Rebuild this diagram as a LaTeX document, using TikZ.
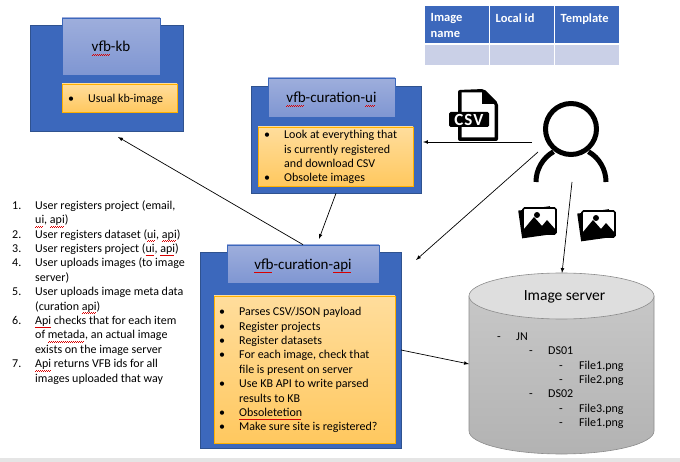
\documentclass[tikz,border=0pt]{standalone}
\usepackage{fontspec}
\setmainfont{Carlito}
\definecolor{boxblue}{HTML}{3C68BC}
\definecolor{boxedge}{HTML}{2F528F}
\definecolor{headtop}{HTML}{9EAEDC}
\definecolor{headlow}{HTML}{7F96D2}
\definecolor{notetop}{HTML}{FFDD9C}
\definecolor{notelow}{HTML}{FFC85F}
\definecolor{noteedge}{HTML}{FFB000}
\definecolor{tablerow}{HTML}{CAD0E7}
\newcommand{\sq}[1]{\setbox0=\hbox{#1}\leavevmode\rlap{\hbox to\wd0{\color{red!85!black}\leaders\hbox{\lower3.4pt\hbox{\rule{1pt}{0.55pt}}\lower2.8pt\hbox{\rule{1pt}{0.55pt}}}\hfil}}\box0 }
\newcommand{\bul}{\textbullet}
\tikzset{
  bluebox/.style={draw=boxedge,fill=boxblue,line width=0.7pt,inner sep=0pt},
  headbox/.style={draw=boxblue,top color=headtop,bottom color=headlow,line width=0.7pt,font=\fontsize{15}{17}\selectfont,inner sep=0pt,text height=14pt,text depth=3pt},
  notebox/.style={draw=noteedge,top color=notetop,bottom color=notelow,line width=0.8pt,inner sep=0pt},
  bodytext/.style={font=\fontsize{12}{14.4}\selectfont,inner sep=0pt,align=left,text=black},
  thead/.style={fill=boxblue,text=white,font=\fontsize{12.5}{16}\bfseries\selectfont,inner sep=0pt},
  trow/.style={fill=tablerow,inner sep=0pt},
  link/.style={-latex,line width=0.7pt,black}
}
\begin{document}
\begin{tikzpicture}[x=1pt,y=-1pt]
\useasboundingbox (0,0) rectangle (680,462);
\fill [black!10] (0,458) rectangle (680,462);

% kb
\node (kbbox) [bluebox,minimum width=153pt,minimum height=106pt] at (106.5,78) {};
\node (kbhead) [headbox,minimum width=98pt,minimum height=57pt] at (111,46.5) {\sq{vfb}-kb};
\node (kbnote) [notebox,minimum width=115pt,minimum height=28pt] at (119.5,98) {};
\node (kbtext) [bodytext,anchor=west] at (68,100) {\begin{tabular}{@{}p{20pt}@{}l@{}}
\bul & Usual kb-image
\end{tabular}};

% ui
\node (uibox) [bluebox,minimum width=170pt,minimum height=107pt] at (336,139.5) {};
\node (uihead) [headbox,minimum width=127pt,minimum height=39pt] at (331.5,97.5) {\sq{vfb}-curation-\sq{ui}};
\node (uinote) [notebox,minimum width=155pt,minimum height=59pt] at (335.5,156.5) {};
\node (uitext) [bodytext,anchor=north west] at (264,128.5) {\begin{tabular}{@{}p{20pt}@{}l@{}}
\bul & Look at everything that\\
 & is currently registered\\
 & and download CSV\\
\bul & Obsolete images
\end{tabular}};

% api
\node (apibox) [bluebox,minimum width=201pt,minimum height=196pt] at (300.5,350) {};
\node (apihead) [headbox,minimum width=152pt,minimum height=38pt] at (303,264) {\sq{vfb}-curation-\sq{api}};
\node (apinote) [notebox,minimum width=181pt,minimum height=147pt] at (304.5,369.5) {};
\node (apitext) [bodytext,anchor=north west] at (219,305.5) {\begin{tabular}{@{}p{20pt}@{}l@{}}
\bul & Parses CSV/JSON payload\\
\bul & Register projects\\
\bul & Register datasets\\
\bul & For each image, check that\\
 & file is present on server\\
\bul & Use KB API to write parsed\\
 & results to KB\\
\bul & \sq{Obsoletetion}\\
\bul & Make sure site is registered?
\end{tabular}};

% steps
\node (steps) [bodytext,anchor=north west] at (12,199) {\begin{tabular}{@{}p{23pt}@{}l@{}}
1. & User registers project (email,\\
 & \sq{ui}, \sq{api})\\
2. & User registers dataset (\sq{ui}, \sq{api})\\
3. & User registers project (\sq{ui}, \sq{api})\\
4. & User uploads images (to image\\
 & server)\\
5. & User uploads image meta data\\
 & (curation \sq{api})\\
6. & \sq{Api} checks that for each item\\
 & of \sq{metada}, an actual image\\
 & exists on the image server\\
7. & \sq{Api} returns VFB ids for all\\
 & images uploaded that way
\end{tabular}};

% table
\node (cellA) [thead,minimum width=64pt,minimum height=37pt] at (456.5,24.5) {};
\node (cellB) [thead,minimum width=64pt,minimum height=37pt] at (521.5,24.5) {};
\node (cellC) [thead,minimum width=64pt,minimum height=37pt] at (586.5,24.5) {};
\node (cellD) [trow,minimum width=64pt,minimum height=20pt] at (456.5,55) {};
\node (cellE) [trow,minimum width=64pt,minimum height=20pt] at (521.5,55) {};
\node (cellF) [trow,minimum width=64pt,minimum height=20pt] at (586.5,55) {};
\node (nameA) [thead,fill=none,anchor=north west,align=left] at (430.5,13.5) {Image\\name};
\node (nameB) [thead,fill=none,anchor=north west] at (495.5,13.5) {Local id};
\node (nameC) [thead,fill=none,anchor=north west] at (560.5,13.5) {Template};

% server
\draw [draw=black!45,line width=0.6pt,top color=black!22,bottom color=black!30] (469,296) -- (469,431) arc [start angle=180,end angle=360,x radius=92.5pt,y radius=23pt] -- (654,296) -- cycle;
\draw [draw=black!45,line width=0.6pt,fill=black!13] (561.5,296) ellipse [x radius=92.5pt,y radius=23pt];
\node (servername) [font=\fontsize{15.5}{17}\selectfont,inner sep=0pt] at (564.5,297) {Image server};
\node (filetree) [font=\fontsize{12}{14.4}\selectfont,inner sep=0pt,anchor=north west] at (497,330) {\begin{tabular}{@{}p{19pt}@{}p{13pt}@{}p{19pt}@{}p{11pt}@{}p{20pt}@{}l@{}}
- & JN & & & & \\
 & & - & DS01 & & \\
 & & & & - & File1.png\\
 & & & & - & File2.png\\
 & & - & DS02 & & \\
 & & & & - & File3.png\\
 & & & & - & File1.png
\end{tabular}};

% csv icon
\fill [black,rounded corners=2pt] (458,90) -- (484,89) -- (498,103) -- (498,141) -- (458,141) -- cycle;
\fill [white] (461.5,92.5) -- (482,92.5) -- (494.5,105) -- (494.5,137.5) -- (461.5,137.5) -- cycle;
\fill [black] (482,90) -- (482,104) -- (497,104) -- cycle;
\fill [black,rounded corners=1.5pt] (449,112) rectangle (489,127);
\node (csvlabel) [font=\fontsize{17}{17}\bfseries\selectfont,text=white,inner sep=0pt] at (469,119.5) {C\kern1pt S\kern1pt V};

% user icon
\draw [line width=5pt] (571,129) circle (25.5pt);
\draw [line width=5pt] (536,182) arc [start angle=180,end angle=120,radius=35pt];
\draw [line width=5pt] (606,182) arc [start angle=0,end angle=60,radius=35pt];

% picture icons
\foreach \px/\py in {523/208,582/211}{
  \fill [black,rotate around={8:(\px+15,\py+14)}] (\px-3,\py+0) rectangle (\px+29,\py+28);
  \fill [white,draw=black,line width=1.6pt,rounded corners=1.5pt] (\px,\py) rectangle (\px+33,\py+26);
  \fill [black] (\px+1,\py+25) -- (\px+1,\py+21) -- (\px+11,\py+9) -- (\px+19,\py+18) -- (\px+24,\py+12) -- (\px+32,\py+21) -- (\px+32,\py+25) -- cycle;
  \fill [black] (\px+14,\py+7) circle (3pt);
}

% connectors
\coordinate (kbtip) at (118,137);
\coordinate (apitip) at (319,239);
\coordinate (userwest) at (532,142);
\coordinate (uitip) at (423,142);
\coordinate (usersw) at (538,152);
\coordinate (apitipb) at (416,260);
\coordinate (usersouth) at (572,182);
\coordinate (servertip) at (562,273);
\coordinate (apieast) at (401,350);
\coordinate (serverwest) at (469,364);
\draw [link] (apihead.north) -- (kbtip);
\draw [link] (uibox.south) -- (apitip);
\draw [link] (userwest) -- (uitip);
\draw [link] (usersw) -- (apitipb);
\draw [link] (usersouth) -- (servertip);
\draw [link] (apieast) -- (serverwest);
\end{tikzpicture}
\end{document}
